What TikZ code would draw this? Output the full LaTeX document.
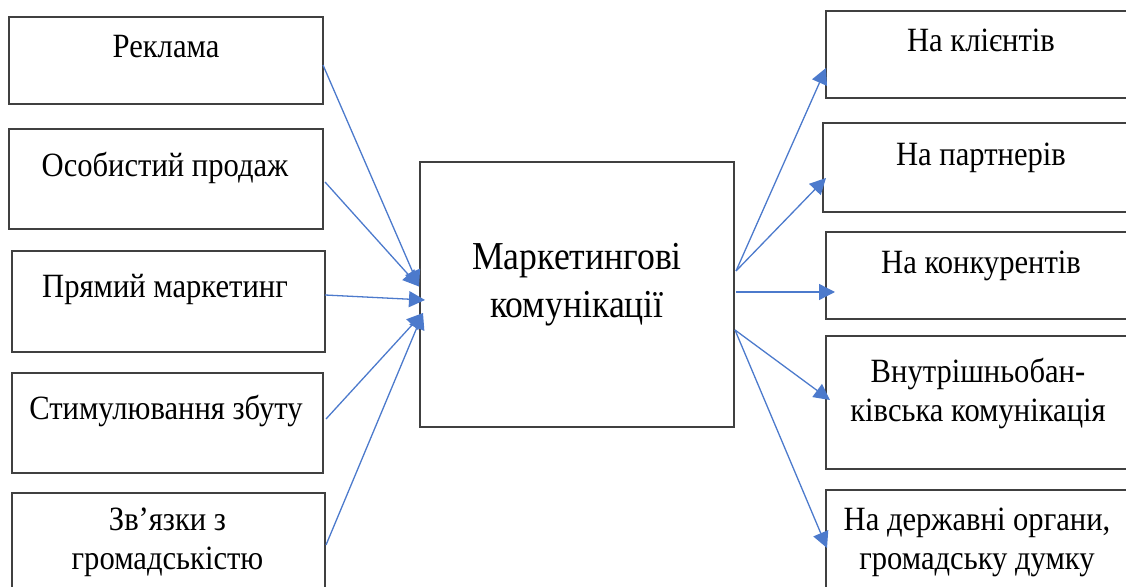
\documentclass[tikz,border=0pt]{standalone}
\usepackage{fontspec}
\setmainfont{Liberation Serif}[FakeStretch=0.9]
\usetikzlibrary{arrows.meta,calc}
\definecolor{arrblue}{RGB}{76,122,204}
\definecolor{boxgray}{RGB}{64,64,64}
\tikzset{
 box/.style={draw=boxgray, line width=0.8pt, inner sep=0pt, outer sep=0pt},
 lbl/.style={font=\fontsize{17}{19.5}\selectfont, align=center, inner sep=0pt, anchor=base},
 clbl/.style={font=\fontsize{19.8}{24}\selectfont, align=center, inner sep=0pt, anchor=base},
 arr/.style={draw=arrblue, line width=0.65pt, -{Triangle[length=8pt,width=8pt]}},
}
\begin{document}
\begin{tikzpicture}[x=0.5pt,y=-0.5pt]
\clip (0,0) rectangle (1126,587);
% left boxes
\node[box, minimum width=157pt, minimum height=43.5pt] (l1) at (166,60.5) {};
\node[box, minimum width=157pt, minimum height=50pt] (l2) at (166,179) {};
\node[box, minimum width=156.5pt, minimum height=50.5pt] (l3) at (168.5,301.5) {};
\node[box, minimum width=155.5pt, minimum height=50pt] (l4) at (167.5,423) {};
\node[box, minimum width=156.5pt, minimum height=55pt] (l5) at (168.5,548) {};
% centre
\node[box, minimum width=157pt, minimum height=132.5pt] (mk) at (577,294.5) {};
% right boxes
\node[box, minimum width=155pt, minimum height=43.5pt] (r1) at (981,54.5) {};
\node[box, minimum width=156.5pt, minimum height=44.5pt] (r2) at (979.5,167.5) {};
\node[box, minimum width=155pt, minimum height=43.5pt] (r3) at (981,275.5) {};
\node[box, minimum width=155pt, minimum height=66.5pt] (r4) at (981,402.5) {};
\node[box, minimum width=155pt, minimum height=55pt] (r5) at (981,545) {};
% texts (base = baseline of the last line)
\node[lbl] (t1) at (166,58) {Реклама};
\node[lbl] (t2) at (165,177) {Особистий продаж};
\node[lbl] (t3) at (165,298) {Прямий маркетинг};
\node[lbl] (t4) at (166,420) {Стимулювання збуту};
\node[lbl] (t5) at (167.5,570) {Зв’язки з\\громадськістю};
\node[clbl] (tc) at (577,318) {Маркетингові\\комунікації};
\node[lbl] (s1) at (981,52) {На клієнтів};
\node[lbl] (s2) at (981,166) {На партнерів};
\node[lbl] (s3) at (981,274) {На конкурентів};
\node[lbl] (s4) at (978,422) {Внутрішньобан-\\ківська комунікація};
\node[lbl] (s5) at (977,570) {На державні органи,\\громадську думку};
% target points on the centre box
\coordinate (ca) at ($(mk.west)+(-1,-8)$);
\coordinate (cb) at ($(mk.west)+(5,5.5)$);
\coordinate (cc) at ($(mk.west)+(3,18.5)$);
% arrows in
\draw[arr] ($(l1.east)+(0,4.5)$) -- (ca);
\draw[arr] ($(l2.east)+(2,3)$) -- (ca);
\draw[arr] ($(l3.east)+(0,-6.5)$) -- (cb);
\draw[arr] ($(l4.east)+(3,-4)$) -- (cc);
\draw[arr] ($(l5.east)+(1,-3)$) -- (cc);
% arrows out
\coordinate (o1) at ($(mk.east)+(2,-23.5)$);
\coordinate (o2) at ($(mk.east)+(2,-2.5)$);
\coordinate (o3) at ($(mk.east)+(1,35.5)$);
\draw[arr] (o1) -- ($(r1.west)+(0,13.5)$);
\draw[arr] (o1) -- ($(r2.west)+(3,10.5)$);
\draw[arr] (o2) -- ($(r3.west)+(9,16.5)$);
\draw[arr] (o3) -- ($(r4.west)+(4,-2.5)$);
\draw[arr] (o3) -- ($(r5.west)+(1,3)$);
\end{tikzpicture}
\end{document}
